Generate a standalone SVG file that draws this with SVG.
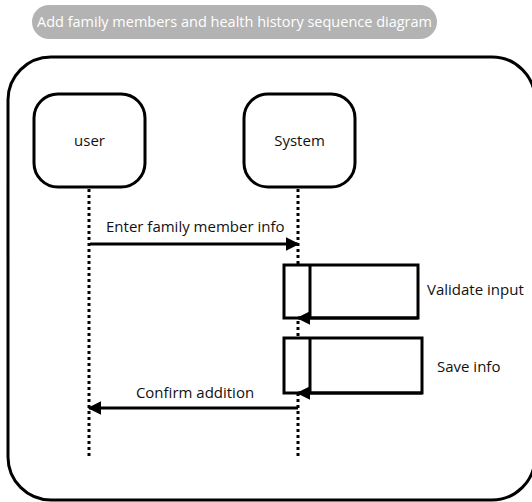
<svg xmlns="http://www.w3.org/2000/svg" width="532" height="502" viewBox="0 0 532 502">
  <defs>
    <style>
      .frame { fill: #ffffff; stroke: #000000; stroke-width: 3; }
      .actor { fill: #ffffff; stroke: #000000; stroke-width: 3; }
      .label { font-family: "Open Sans", "Liberation Sans", sans-serif; font-size: 15px; fill: #111111; }
      .lifeline { stroke: #000000; stroke-width: 3; stroke-dasharray: 3 3; fill: none; }
      .msg { stroke: #000000; stroke-width: 3; fill: none; }
      .act { fill: #ffffff; stroke: #000000; stroke-width: 3; }
      .title { font-family: "Open Sans", "Liberation Sans", sans-serif; font-size: 14.5px; fill: #ffffff; }
    </style>
    <marker id="head" viewBox="0 0 10 10" refX="9" refY="5" markerWidth="4.5" markerHeight="4.5" orient="auto-start-reverse" markerUnits="strokeWidth">
      <path d="M0,0 L10,5 L0,10 Z" fill="#000000"/>
    </marker>
  </defs>

  <rect width="532" height="502" fill="#ffffff"/>

  <!-- title pill -->
  <g id="title">
    <rect x="32" y="5" width="405" height="34" rx="17" fill="#b3b3b3"/>
    <text class="title" x="234.5" y="27" text-anchor="middle">Add family members and health history sequence diagram</text>
  </g>

  <!-- outer frame (runs past the right and bottom edges of the canvas) -->
  <rect class="frame" x="8" y="57" width="527" height="443" rx="43"/>

  <g id="user">
    <rect class="actor" x="34" y="94" width="111" height="93" rx="24"/>
    <text class="label" x="89.5" y="146" text-anchor="middle">user</text>
  </g>

  <g id="system">
    <rect class="actor" x="244" y="94" width="111" height="93" rx="24"/>
    <text class="label" x="299.5" y="146" text-anchor="middle">System</text>
  </g>

  <g id="connectors">
    <line class="lifeline" x1="89" y1="189" x2="89" y2="456"/>
    <line class="lifeline" x1="298" y1="189" x2="298" y2="456"/>

    <line class="msg" x1="90" y1="244" x2="298" y2="244" marker-end="url(#head)"/>
    <text class="label" x="106" y="232">Enter family member info</text>

    <line class="msg" x1="298" y1="408" x2="89" y2="408" marker-end="url(#head)"/>
    <text class="label" x="195" y="398" text-anchor="middle">Confirm addition</text>
  </g>

  <g id="validate">
    <rect class="act" x="284" y="265" width="134" height="53"/>
    <line class="msg" x1="310" y1="265" x2="310" y2="318"/>
    <line class="msg" x1="418" y1="318" x2="298" y2="318" marker-end="url(#head)"/>
    <text class="label" x="427" y="295">Validate input</text>
  </g>

  <g id="save">
    <rect class="act" x="284" y="338" width="138" height="55"/>
    <line class="msg" x1="310" y1="338" x2="310" y2="393"/>
    <line class="msg" x1="422" y1="393" x2="298" y2="393" marker-end="url(#head)"/>
    <text class="label" x="437" y="372">Save info</text>
  </g>
</svg>
